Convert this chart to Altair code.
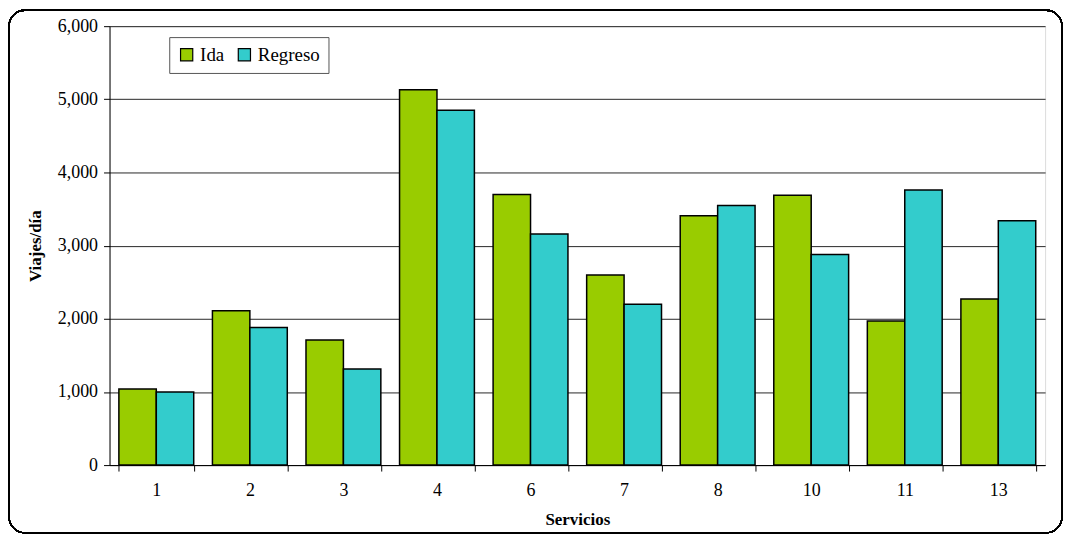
import altair as alt
import pandas as pd

servicios = ["1", "2", "3", "4", "6", "7", "8", "10", "11", "13"]
ida = [1040, 2110, 1710, 5130, 3700, 2600, 3410, 3690, 1970, 2270]
regreso = [1000, 1880, 1315, 4850, 3160, 2200, 3550, 2880, 3760, 3340]
series = ["Ida", "Regreso"]
colors = ["#99CC00", "#33CCCC"]
y_ticks = [0, 1000, 2000, 3000, 4000, 5000, 6000]

rows = []
for s, a, b in zip(servicios, ida, regreso):
    rows.append({"Servicios": s, "Sentido": "Ida", "Viajes": a})
    rows.append({"Servicios": s, "Sentido": "Regreso", "Viajes": b})
df = pd.DataFrame(rows)

FONT = "Liberation Serif"
W, H = 940, 441

bars = alt.Chart(df).mark_bar(stroke="#000000", strokeWidth=1.5).encode(
    x=alt.X("Servicios:N", sort=servicios,
            scale=alt.Scale(paddingInner=0.2, paddingOuter=0.1),
            axis=alt.Axis(title="Servicios", labelAngle=0, tickBand="extent",
                          labelFont=FONT, labelFontSize=18, labelColor="#000",
                          titleFont=FONT, titleFontSize=17, titleFontWeight="bold",
                          titleColor="#000", titlePadding=12, labelPadding=11,
                          domainColor="#000", tickColor="#000", tickSize=6, grid=False)),
    xOffset=alt.XOffset("Sentido:N", sort=series, scale=alt.Scale(paddingInner=0, paddingOuter=0)),
    y=alt.Y("Viajes:Q", scale=alt.Scale(domain=[0, 6000], nice=False),
            axis=alt.Axis(title="Viajes/día", values=y_ticks,
                          format=",.0f", labelFont=FONT, labelFontSize=18, labelColor="#000",
                          titleFont=FONT, titleFontSize=17, titleFontWeight="bold",
                          titleColor="#000", titlePadding=13, labelPadding=6,
                          domainColor="#000", tickColor="#000", tickSize=6,
                          gridColor="#000", gridWidth=1, gridOpacity=0.85)),
    color=alt.Color("Sentido:N", sort=series,
                    scale=alt.Scale(domain=series, range=colors),
                    legend=alt.Legend(title=None, orient="none", legendX=60, legendY=11,
                                      direction="horizontal", symbolType="square",
                                      symbolSize=150, symbolStrokeColor="#000",
                                      symbolStrokeWidth=1.2, labelFont=FONT,
                                      labelFontSize=19, labelColor="#000",
                                      columnPadding=10, padding=8,
                                      strokeColor="#555", fillColor="#fff")),
)

border = alt.Chart(df).mark_rect(fill=None, stroke="#000", strokeWidth=1.3,
                                 cornerRadius=16, clip=False).encode(
    x=alt.value(-101), x2=alt.value(W + 17),
    y=alt.value(-16), y2=alt.value(H + 68),
)

chart = alt.layer(bars, border).properties(
    width=W, height=H,
    autosize=alt.AutoSizeParams(type="none"),
    padding={"left": 102, "top": 17, "right": 20, "bottom": 70},
).configure_view(stroke="#000", strokeWidth=1).configure(background="#ffffff")

chart.save("out.html", embed_options={"renderer": "svg", "actions": False})
